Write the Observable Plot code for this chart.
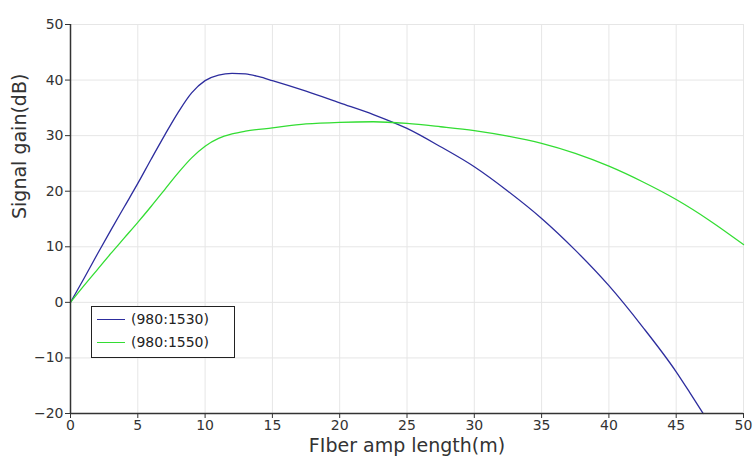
<!DOCTYPE html>
<html>
<head>
<meta charset="utf-8">
<script src="https://cdn.jsdelivr.net/npm/d3@7"></script>
<script src="https://cdn.jsdelivr.net/npm/@observablehq/plot@0.6"></script>
<style>
  body { margin: 0; background: #fff; font-family: "DejaVu Sans", sans-serif; }
  #wrap { position: relative; width: 754px; height: 459px; }
  #legend { position: absolute; left: 91px; top: 306px; width: 142px; height: 50px; border: 1.5px solid #222; background: #fff; font-size: 14px; color: #222; }
  .row { position: absolute; left: 5px; display: flex; align-items: center; line-height: 17px; height: 17px; }
  .sw { width: 28px; height: 0; border-top: 1.4px solid; margin-right: 6px; }
</style>
</head>
<body>
<div id="wrap"></div>
<script>
const seriesNames = ["(980:1530)", "(980:1550)"];
const colors = ["#2d2d9e", "#33dd33"];
const blueX = [0, 1, 2, 3, 4, 5, 6, 7, 8, 9, 10, 11, 12, 13, 14, 15, 17.5, 20, 22.5, 25, 27.5, 30, 32.5, 35, 37.5, 40, 42.5, 45, 46, 47];
const blueY = [0, 4.3, 8.7, 13, 17.2, 21.4, 25.8, 30.1, 34.2, 37.7, 39.9, 40.9, 41.2, 41.1, 40.6, 39.9, 38, 35.9, 33.8, 31.3, 28, 24.4, 20, 15.1, 9.4, 3, -4.4, -12.5, -16.2, -20];
const greenX = [0, 1, 2, 3, 4, 5, 6, 7, 8, 9, 10, 11, 12, 13, 15, 17.5, 20, 22.5, 25, 27.5, 30, 32.5, 35, 37.5, 40, 42.5, 45, 47.5, 50];
const greenY = [0, 3, 5.9, 8.8, 11.6, 14.4, 17.3, 20.3, 23.3, 26, 28.1, 29.5, 30.3, 30.8, 31.4, 32.1, 32.4, 32.5, 32.2, 31.6, 30.9, 29.9, 28.6, 26.8, 24.5, 21.7, 18.5, 14.7, 10.4];
const xTicks = [0, 5, 10, 15, 20, 25, 30, 35, 40, 45, 50];
const yTicks = [-20, -10, 0, 10, 20, 30, 40, 50];

const blue = blueX.map((x, i) => ({x, y: blueY[i]}));
const green = greenX.map((x, i) => ({x, y: greenY[i]}));

const chart = Plot.plot({
  width: 754,
  height: 459,
  marginLeft: 70,
  marginRight: 11,
  marginTop: 24,
  marginBottom: 46,
  style: { fontFamily: "DejaVu Sans, sans-serif", fontSize: "14px", color: "#333", background: "#fff" },
  x: { domain: [0, 50] },
  y: { domain: [-20, 50] },
  marks: [
    Plot.gridX(xTicks, { stroke: "#e6e6e6", strokeOpacity: 1 }),
    Plot.gridY(yTicks, { stroke: "#e6e6e6", strokeOpacity: 1 }),
    Plot.line(blue, { x: "x", y: "y", stroke: colors[0], strokeWidth: 1.3, curve: "monotone-x" }),
    Plot.line(green, { x: "x", y: "y", stroke: colors[1], strokeWidth: 1.3, curve: "monotone-x" }),
    Plot.axisX({ ticks: xTicks, tickSize: 5, tickPadding: 2, label: null, stroke: "#333", fill: "#333", fontSize: 14 }),
    Plot.axisY({ ticks: yTicks, tickSize: 5, tickPadding: 2, label: null, stroke: "#333", fill: "#333", fontSize: 14 }),
    Plot.ruleX([0], { stroke: "#333", strokeWidth: 1.5 }),
    Plot.ruleY([-20], { stroke: "#333", strokeWidth: 1.5 }),
    Plot.text(["FIber amp length(m)"], { frameAnchor: "bottom", dy: 38, fontSize: 19, fill: "#333" }),
    Plot.text(["Signal gain(dB)"], { frameAnchor: "left", dx: -51, rotate: -90, fontSize: 19, fill: "#333" })
  ]
});
const wrap = document.getElementById("wrap");
wrap.appendChild(chart);
const leg = document.createElement("div");
leg.id = "legend";
seriesNames.forEach((n, i) => {
  const r = document.createElement("div");
  r.className = "row";
  r.style.top = (i === 0 ? 4 : 26.5) + "px";
  r.innerHTML = `<span class="sw" style="border-color:${colors[i]}"></span><span>${n}</span>`;
  leg.appendChild(r);
});
wrap.appendChild(leg);
</script>
</body>
</html>
